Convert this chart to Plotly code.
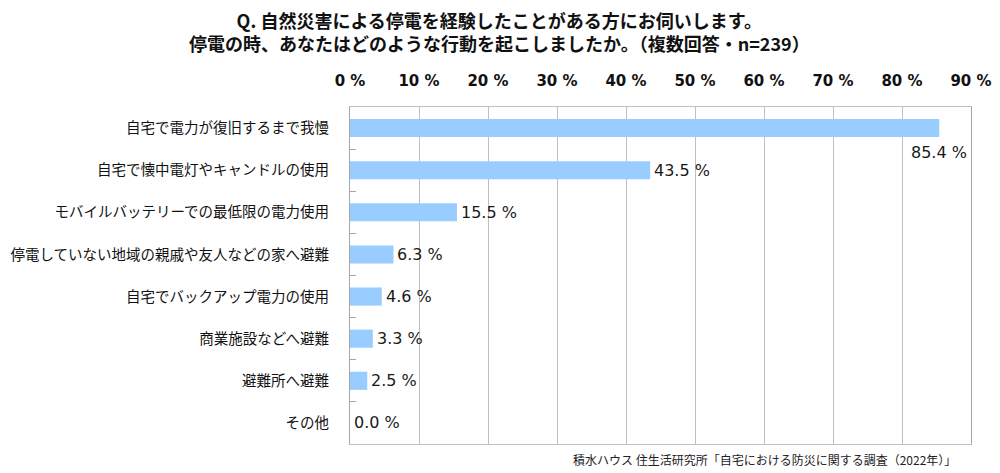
import plotly.graph_objects as go

categories = [
    "自宅で電力が復旧するまで我慢",
    "自宅で懐中電灯やキャンドルの使用",
    "モバイルバッテリーでの最低限の電力使用",
    "停電していない地域の親戚や友人などの家へ避難",
    "自宅でバックアップ電力の使用",
    "商業施設などへ避難",
    "避難所へ避難",
    "その他",
]
values = [85.4, 43.5, 15.5, 6.3, 4.6, 3.3, 2.5, 0.0]
tick_vals = [0, 10, 20, 30, 40, 50, 60, 70, 80, 90]
tick_text = [f"{v} %" for v in tick_vals]
title_lines = [
    "Q. 自然災害による停電を経験したことがある方にお伺いします。",
    "停電の時、あなたはどのような行動を起こしましたか。（複数回答・n=239）",
]
source = "積水ハウス 住生活研究所「自宅における防災に関する調査（2022年）」"

# figure geometry (page has an 8px body margin)
OFF = 8
W, H = 992, 465
L, R, T, B = 342, 29, 99, 29
PW, PH = W - L - R, H - T - B


def px(xpage):
    return (xpage - OFF - L) / PW


def py(ypage):
    return (H - B - (ypage - OFF)) / PH


fig = go.Figure()
fig.add_trace(go.Bar(
    x=values, y=categories, orientation="h",
    marker=dict(color="#99CCFF", line=dict(width=0)),
    hoverinfo="skip",
))

label_font = dict(family="DejaVu Sans", size=16, color="#1a1a1a")
for i, (c, v) in enumerate(zip(categories, values)):
    if i == 0:
        fig.add_annotation(x=v, y=c, text=f"{v:.1f} %", showarrow=False,
                           xanchor="center", yanchor="middle", yshift=-24,
                           font=label_font)
    else:
        fig.add_annotation(x=v, y=c, text=f"{v:.1f} %", showarrow=False,
                           xanchor="left", yanchor="middle", xshift=2,
                           font=label_font)

title_font = dict(family="Noto Sans CJK JP", size=18, color="#111")
fig.add_annotation(x=px(499), y=py(31), xref="paper", yref="paper",
                   xanchor="center", yanchor="middle", align="center",
                   text="<b>" + "<br>".join(title_lines) + "</b>",
                   showarrow=False, font=title_font)
fig.add_annotation(x=px(958), y=py(459), xref="paper", yref="paper",
                   xanchor="right", yanchor="middle",
                   text=source, showarrow=False,
                   font=dict(family="Noto Sans CJK JP", size=12, color="#222"))

fig.update_layout(
    width=W, height=H,
    margin=dict(l=L, r=R, t=T, b=B, autoexpand=False),
    paper_bgcolor="white", plot_bgcolor="white",
    bargap=0.57, showlegend=False,
    xaxis=dict(
        side="top", range=[0, 90], tickvals=tick_vals, ticktext=tick_text,
        showgrid=True, gridcolor="#BFBFBF", gridwidth=1,
        showline=True, linecolor="#BFBFBF", mirror=True,
        zeroline=False, ticks="", ticklabelstandoff=14,
        tickfont=dict(family="DejaVu Sans", size=15, color="#111", weight="bold"),
        fixedrange=True,
    ),
    yaxis=dict(
        type="category", range=[len(categories) - 0.5, -0.5],
        showline=True, linecolor="#A6A6A6", mirror=True,
        ticks="inside", ticklen=6, tickcolor="#A6A6A6", tickson="boundaries",
        showgrid=False, ticklabelstandoff=17,
        tickfont=dict(family="Noto Sans CJK JP", size=14.5, color="#111"),
        fixedrange=True,
    ),
)

fig.write_html("out.html")
